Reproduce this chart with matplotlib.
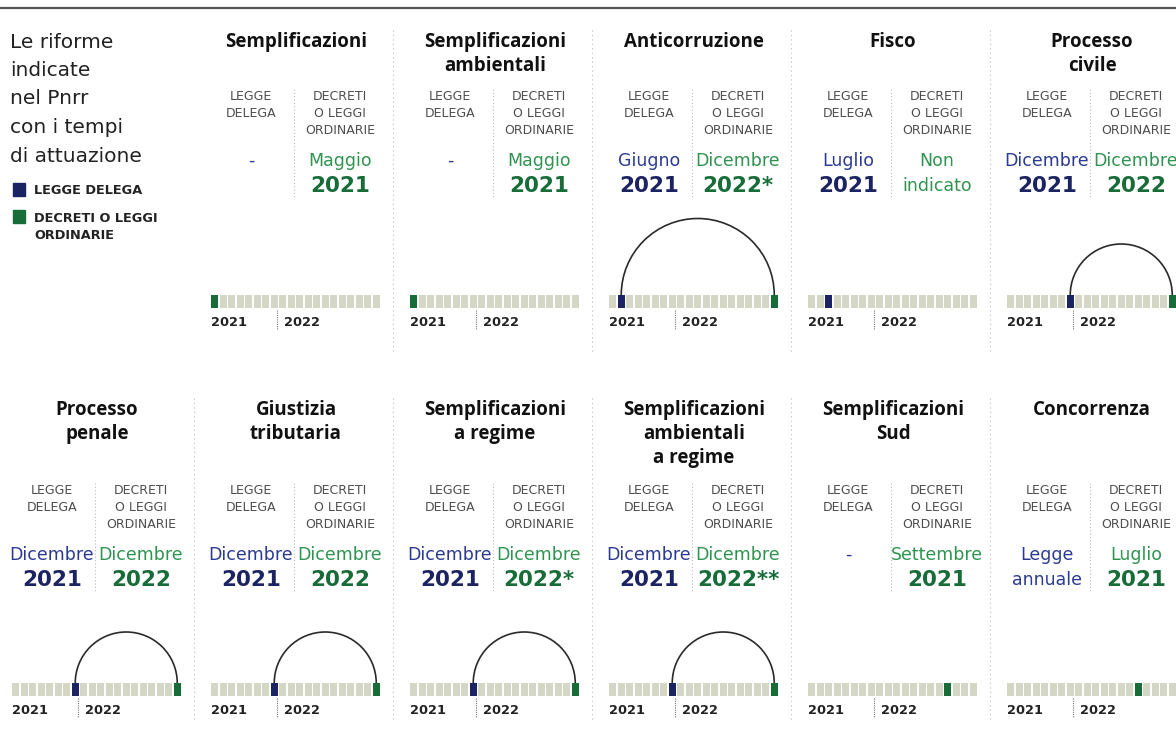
import matplotlib.pyplot as plt
from matplotlib.patches import Arc

# Dati delle riforme (mesi contati da maggio 2021: 0 = mag 2021, 19 = dic 2022)
titoli = ["Semplificazioni", "Semplificazioni\nambientali", "Anticorruzione", "Fisco",
          "Processo\ncivile", "Processo\npenale", "Giustizia\ntributaria",
          "Semplificazioni\na regime", "Semplificazioni\nambientali\na regime",
          "Semplificazioni\nSud", "Concorrenza"]
delega_riga1 = ["-", "-", "Giugno", "Luglio", "Dicembre", "Dicembre", "Dicembre",
                "Dicembre", "Dicembre", "-", "Legge"]
delega_riga2 = ["", "", "2021", "2021", "2021", "2021", "2021", "2021", "2021", "", "annuale"]
decreti_riga1 = ["Maggio", "Maggio", "Dicembre", "Non", "Dicembre", "Dicembre", "Dicembre",
                 "Dicembre", "Dicembre", "Settembre", "Luglio"]
decreti_riga2 = ["2021", "2021", "2022*", "indicato", "2022", "2022", "2022",
                 "2022*", "2022**", "2021", "2021"]
mese_delega = [None, None, 1, 2, 7, 7, 7, 7, 7, None, None]
mese_decreti = [0, 0, 19, None, 19, 19, 19, 19, 19, 16, 15]
n_mesi = 20
mesi_2021 = 8

W, H = 1176, 729
BLU = '#2b3a92'
BLU_SCURO = '#1b2362'
VERDE = '#2f9450'
VERDE_SCURO = '#176c38'
GRIGIO = '#4d4d4d'
CELLA = '#d4d7c6'
FONT_TIT = 'Open Sans'
FONT = 'DejaVu Sans'

fig = plt.figure(figsize=(W / 100, H / 100), dpi=100)
fig.patch.set_facecolor('white')


def txt(x, y, s, **kw):
    kw.setdefault('ha', 'center')
    kw.setdefault('va', 'center')
    kw.setdefault('family', FONT)
    fig.text(x / W, 1 - y / H, s, **kw)


def vline(x, y0, y1, **kw):
    fig.add_artist(plt.Line2D([x / W, x / W], [1 - y0 / H, 1 - y1 / H], **kw))


# linea in alto
fig.add_artist(plt.Line2D([0, 1], [1 - 8 / H, 1 - 8 / H], color='#555555', lw=1.6))

# titolo e legenda a sinistra
for i, riga in enumerate(["Le riforme", "indicate", "nel Pnrr", "con i tempi", "di attuazione"]):
    txt(10, 42 + i * 28.5, riga, ha='left', fontsize=14.5, color='#222222')
fig.add_artist(plt.Rectangle((13 / W, 1 - 196 / H), 12 / W, 13 / H, color=BLU_SCURO))
fig.add_artist(plt.Rectangle((13 / W, 1 - 223 / H), 12 / W, 13 / H, color=VERDE_SCURO))
txt(34, 190, "LEGGE DELEGA", ha='left', fontsize=9.3, weight='bold', color='#222222')
txt(34, 218, "DECRETI O LEGGI", ha='left', fontsize=9.3, weight='bold', color='#222222')
txt(34, 235, "ORDINARIE", ha='left', fontsize=9.3, weight='bold', color='#222222')

# posizioni delle righe (pixel)
righe = [dict(titolo=33, etich=97, val=161, barra=308),
         dict(titolo=401, etich=491, val=555, barra=696)]

for k in range(len(titoli)):
    if k < 5:
        r, col = righe[0], k + 1
    else:
        r, col = righe[1], k - 5
    x0 = 12 + 199 * col
    xc = x0 + 85

    # separatore puntinato tra i pannelli
    if (r is righe[0] and col > 1) or (r is righe[1] and col > 0):
        yy = 30 if r is righe[0] else 398
        vline(x0 - 17, yy, yy + 322, color='#bbbbbb', lw=0.8, ls=(0, (1, 3)))

    for j, riga in enumerate(titoli[k].split("\n")):
        txt(xc, r['titolo'] + 9 + j * 24, riga, fontsize=13.5, weight='bold',
            color='#111111', family=FONT_TIT)

    # intestazioni
    ye = r['etich']
    for j, s in enumerate(["LEGGE", "DELEGA"]):
        txt(x0 + 40, ye + j * 16.5, s, fontsize=9, color=GRIGIO)
    for j, s in enumerate(["DECRETI", "O LEGGI", "ORDINARIE"]):
        txt(x0 + 129, ye + j * 16.5, s, fontsize=9, color=GRIGIO)
    vline(x0 + 83, ye - 8, ye + 100, color='#bbbbbb', lw=0.8, ls=(0, (1, 2)))

    # valori
    yv = r['val']
    txt(x0 + 40, yv, delega_riga1[k], fontsize=12.5, color=BLU)
    if delega_riga2[k].isdigit():
        txt(x0 + 40, yv + 25, delega_riga2[k], fontsize=15.5, weight='bold', color=BLU_SCURO)
    elif delega_riga2[k]:
        txt(x0 + 40, yv + 25, delega_riga2[k], fontsize=12.5, color=BLU)
    txt(x0 + 129, yv, decreti_riga1[k], fontsize=12.5, color=VERDE)
    if decreti_riga2[k][:4].isdigit():
        txt(x0 + 129, yv + 25, decreti_riga2[k], fontsize=15.5, weight='bold', color=VERDE_SCURO)
    else:
        txt(x0 + 129, yv + 25, decreti_riga2[k], fontsize=12.5, color=VERDE)

    # linea del tempo
    yb = r['barra']
    ax = fig.add_axes([x0 / W, 1 - yb / H, 170 / W, 100 / H])
    ax.set_xlim(0, n_mesi)
    ax.set_ylim(0, 100 / 8.5)
    ax.axis('off')
    h = 13 / 8.5
    colori = [CELLA] * n_mesi
    if mese_delega[k] is not None:
        colori[mese_delega[k]] = BLU_SCURO
    if mese_decreti[k] is not None:
        colori[mese_decreti[k]] = VERDE_SCURO
    ax.bar(range(n_mesi), [h] * n_mesi, width=0.88, align='edge', color=colori,
           edgecolor='none')
    if mese_delega[k] is not None and mese_decreti[k] is not None:
        a, b = mese_delega[k] + 0.44, mese_decreti[k] + 0.44
        ax.add_patch(Arc(((a + b) / 2, h), b - a, b - a, theta1=0, theta2=180,
                         color='#2a2a2a', lw=1.2))

    txt(x0, yb + 14, "2021", ha='left', fontsize=9.3, weight='bold', color='#222222')
    txt(x0 + 73, yb + 14, "2022", ha='left', fontsize=9.3, weight='bold', color='#222222')
    xd = x0 + 170 * mesi_2021 / n_mesi - 2
    vline(xd, yb + 2, yb + 22, color='#777777', lw=0.8, ls=(0, (1, 1)))

fig.savefig('out.png', dpi=100, facecolor='white')
